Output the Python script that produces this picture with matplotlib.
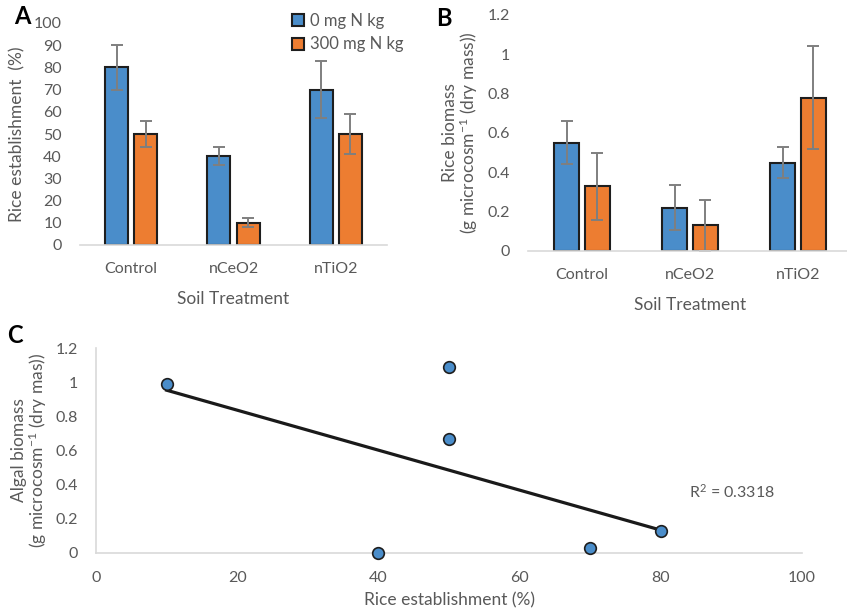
import numpy as np
import matplotlib
matplotlib.use('Agg')
import matplotlib.pyplot as plt
from matplotlib.patches import Patch

# ---- data ----
treatments = ['Control', 'nCeO2', 'nTiO2']
series_names = ['0 mg N kg', '300 mg N kg']

estab_0n = [80, 40, 70]
estab_0n_err = [10, 4, 13]
estab_300n = [50, 10, 50]
estab_300n_err = [6, 2, 9]

biomass_0n = [0.55, 0.22, 0.45]
biomass_0n_err = [0.11, 0.115, 0.08]
biomass_300n = [0.33, 0.13, 0.78]
biomass_300n_err = [0.17, 0.13, 0.26]

algal_x = [10, 50, 50, 40, 70, 80]
algal_y = [0.99, 1.09, 0.67, 0.0, 0.03, 0.13]
r2_label = 'R$^2$ = 0.3318'

BLUE = '#4a8dca'
ORANGE = '#ed7d31'
EDGE = '#1e1e1e'
GREY_TXT = '#595959'
AXIS_GREY = '#d9d9d9'
ERR_GREY = '#7f7f7f'

plt.rcParams['font.family'] = ['Lato', 'DejaVu Sans']
plt.rcParams['font.size'] = 11
plt.rcParams['mathtext.fontset'] = 'custom'
plt.rcParams['mathtext.rm'] = 'Lato'
plt.rcParams['mathtext.it'] = 'Lato:italic'

fig = plt.figure(figsize=(8.47, 6.12), dpi=100)
W, H = 847, 612


def px_axes(x0, x1, ytop, ybot):
    return fig.add_axes([x0 / W, 1 - ybot / H, (x1 - x0) / W, (ybot - ytop) / H])


def style_bar_axes(ax):
    for s in ['top', 'right', 'left']:
        ax.spines[s].set_visible(False)
    ax.spines['bottom'].set_color(AXIS_GREY)
    ax.spines['bottom'].set_linewidth(1.2)
    ax.tick_params(length=0, colors=GREY_TXT, labelsize=11.5)
    ax.tick_params(axis='y', pad=13)
    ax.tick_params(axis='x', pad=12)


def draw_bars(ax, v0, e0, v1, e1):
    x = np.arange(len(treatments))
    off, w = 0.143, 0.225
    kw = dict(width=w, edgecolor=EDGE, linewidth=1.5, zorder=2)
    ekw = dict(ecolor=ERR_GREY, elinewidth=1.4, capsize=4, capthick=1.4)
    ax.bar(x - off, v0, color=BLUE, yerr=e0, error_kw=ekw, **kw)
    ax.bar(x + off, v1, color=ORANGE, yerr=e1, error_kw=ekw, **kw)
    ax.set_xticks(x)
    ax.set_xticklabels(treatments)
    ax.set_xlim(-0.5, len(treatments) - 0.5)


# ---- panel A ----
axA = px_axes(80, 387, 23, 245)
draw_bars(axA, estab_0n, estab_0n_err, estab_300n, estab_300n_err)
axA.set_ylim(0, 100)
axA.set_yticks(np.arange(0, 101, 10))
style_bar_axes(axA)
axA.set_xlabel('Soil Treatment', color=GREY_TXT, fontsize=12.5, labelpad=11)
axA.set_ylabel('Rice establishment  (%)', color=GREY_TXT, fontsize=12.5)
axA.yaxis.set_label_coords(-0.178, 0.5)

handles = [Patch(facecolor=BLUE, edgecolor=EDGE, linewidth=1.5),
           Patch(facecolor=ORANGE, edgecolor=EDGE, linewidth=1.5)]
leg = fig.legend(handles, series_names, loc='upper left',
                 bbox_to_anchor=(292 / W, 1 - 13 / H), frameon=False,
                 handlelength=0.7, handleheight=0.7, handletextpad=0.35,
                 borderpad=0, borderaxespad=0, labelspacing=0.45, fontsize=12)
for t in leg.get_texts():
    t.set_color(GREY_TXT)

# ---- panel B ----
axB = px_axes(528, 852, 15, 251)
draw_bars(axB, biomass_0n, biomass_0n_err, biomass_300n, biomass_300n_err)
axB.set_ylim(0, 1.2)
axB.set_yticks([0, 0.2, 0.4, 0.6, 0.8, 1.0, 1.2])
axB.set_yticklabels(['0', '0.2', '0.4', '0.6', '0.8', '1', '1.2'])
style_bar_axes(axB)
axB.set_xlabel('Soil Treatment', color=GREY_TXT, fontsize=12.5, labelpad=11)
axB.set_ylabel('Rice biomass\n(g microcosm$^{-1}$ (dry mass))', color=GREY_TXT,
               fontsize=12.5, linespacing=1.0)
axB.yaxis.set_label_coords(-0.148, 0.5)

# ---- panel C ----
axC = px_axes(96, 802, 348, 553)
axC.scatter(algal_x, algal_y, s=70, color=BLUE, edgecolor=EDGE, linewidth=1.2,
            zorder=3, clip_on=False)
slope, icept = np.polyfit(algal_x, algal_y, 1)
xfit = np.array([min(algal_x), max(algal_x)])
axC.plot(xfit, slope * xfit + icept, color='#1a1a1a', linewidth=2.3, zorder=2)
axC.text(84, 0.36, r2_label, color=GREY_TXT, fontsize=11.5, va='center', ha='left')
axC.set_xlim(0, 100)
axC.set_ylim(0, 1.2)
axC.set_xticks(np.arange(0, 101, 20))
axC.set_yticks([0, 0.2, 0.4, 0.6, 0.8, 1.0, 1.2])
axC.set_yticklabels(['0', '0.2', '0.4', '0.6', '0.8', '1', '1.2'])
for s in ['top', 'right']:
    axC.spines[s].set_visible(False)
for s in ['bottom', 'left']:
    axC.spines[s].set_color(AXIS_GREY)
    axC.spines[s].set_linewidth(1.2)
axC.tick_params(length=0, colors=GREY_TXT, labelsize=11.5)
axC.tick_params(axis='y', pad=13)
axC.tick_params(axis='x', pad=13)
axC.set_xlabel('Rice establishment (%)', color=GREY_TXT, fontsize=12.5, labelpad=5)
axC.set_ylabel('Algal biomass\n(g microcosm$^{-1}$ (dry mas))', color=GREY_TXT,
               fontsize=12.5, linespacing=1.0)
axC.yaxis.set_label_coords(-0.066, 0.5)

# ---- panel letters ----
fig.text(14 / W, 1 - 16 / H, 'A', fontsize=17, fontweight='bold', va='center')
fig.text(436 / W, 1 - 18 / H, 'B', fontsize=17, fontweight='bold', va='center')
fig.text(7 / W, 1 - 335 / H, 'C', fontsize=17, fontweight='bold', va='center')

fig.savefig('out.png', dpi=100)
